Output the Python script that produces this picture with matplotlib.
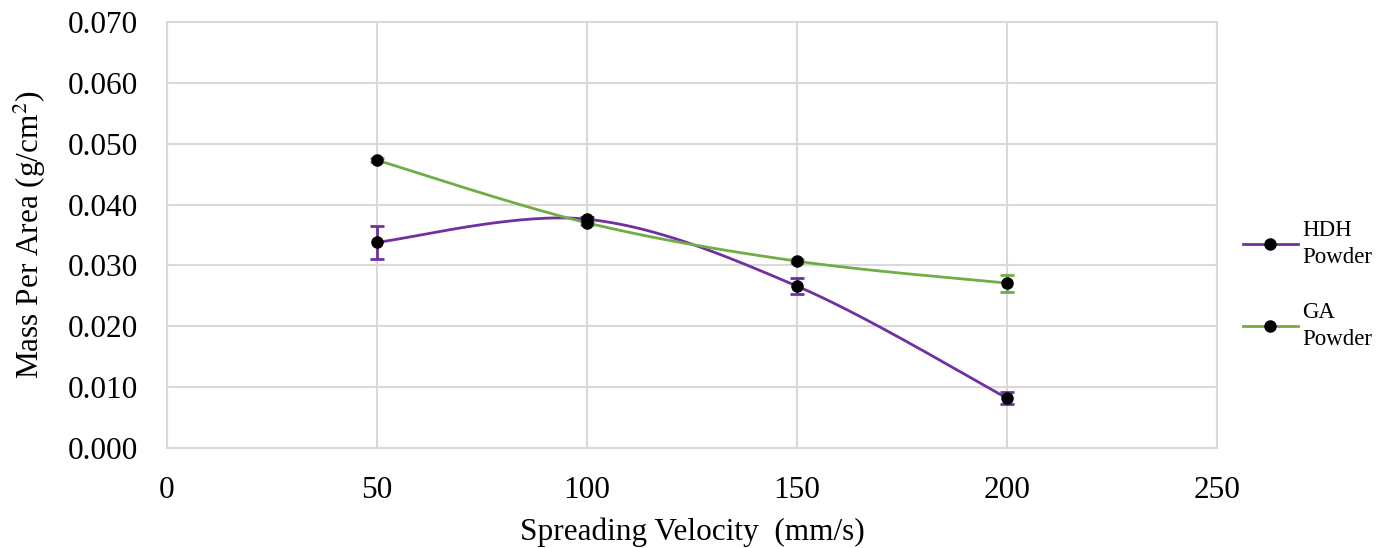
import numpy as np
import matplotlib
matplotlib.use("Agg")
import matplotlib.pyplot as plt
from matplotlib.lines import Line2D

# data
velocity = [50, 100, 150, 200]
hdh_mass = [0.0338, 0.0376, 0.0266, 0.0082]
hdh_err = [0.0027, 0.0003, 0.0013, 0.0010]
ga_mass = [0.0473, 0.0370, 0.0307, 0.0271]
ga_err = [0.0003, 0.0003, 0.0003, 0.0014]

purple = "#7030A0"
green = "#70AD47"
grid_col = "#D9D9D9"

plt.rcParams['font.family'] = ['Liberation Serif', 'DejaVu Serif']
plt.rcParams['mathtext.fontset'] = 'stix'


def smooth(xs, ys, n=60):
    # catmull-rom style bezier, like the office "smoothed line"
    xs = np.asarray(xs, float)
    ys = np.asarray(ys, float)
    outx, outy = [], []
    m = len(xs)
    for i in range(m - 1):
        p0 = np.array([xs[max(i - 1, 0)], ys[max(i - 1, 0)]])
        p1 = np.array([xs[i], ys[i]])
        p2 = np.array([xs[i + 1], ys[i + 1]])
        p3 = np.array([xs[min(i + 2, m - 1)], ys[min(i + 2, m - 1)]])
        c1 = p1 + (p2 - p0) / 6.0
        c2 = p2 - (p3 - p1) / 6.0
        t = np.linspace(0, 1, n)[:, None]
        pts = ((1 - t) ** 3) * p1 + 3 * ((1 - t) ** 2) * t * c1 + 3 * (1 - t) * t ** 2 * c2 + t ** 3 * p2
        outx.extend(pts[:, 0])
        outy.extend(pts[:, 1])
    return outx, outy


fig = plt.figure(figsize=(13.83, 5.48), dpi=100)
ax = fig.add_axes([167 / 1383, 1 - 448 / 548, (1217 - 167) / 1383, (448 - 22) / 548])

for ys, err, col in [(hdh_mass, hdh_err, purple), (ga_mass, ga_err, green)]:
    sx, sy = smooth(velocity, ys)
    ax.plot(sx, sy, color=col, lw=2, zorder=3)
    ax.errorbar(velocity, ys, yerr=err, fmt='none', ecolor=col, elinewidth=2,
                capsize=5, capthick=2, zorder=4)
    ax.plot(velocity, ys, 'o', color='black', ms=8, zorder=5)

ax.set_xlim(0, 250)
ax.set_ylim(0, 0.070)
ax.set_xticks(np.arange(0, 251, 50))
ax.set_yticks(np.arange(0, 0.0701, 0.01))
ax.yaxis.set_major_formatter(matplotlib.ticker.FormatStrFormatter('%.3f'))
ax.grid(True, color=grid_col, lw=1.5)
ax.set_axisbelow(True)
for s in ax.spines.values():
    s.set_color(grid_col)
    s.set_linewidth(1.5)
ax.tick_params(length=0, labelsize=22.5)
ax.tick_params(axis='y', pad=21)
ax.tick_params(axis='x', pad=20)

ax.set_xlabel("Spreading Velocity  (mm/s)", fontsize=22.5, labelpad=9)
ax.set_ylabel("Mass Per Area (g/cm$^{2}$)", fontsize=22.5, labelpad=14)

handles = [Line2D([0], [0], color=purple, lw=2, marker='o', mfc='black', mec='black', ms=8),
           Line2D([0], [0], color=green, lw=2, marker='o', mfc='black', mec='black', ms=8)]
fig.legend(handles, ["HDH\nPowder", "GA\nPowder"], loc='center left',
           bbox_to_anchor=(1222 / 1383, 1 - 285 / 548), frameon=False,
           fontsize=16.5, labelspacing=1.5, handlelength=2.4, handletextpad=0.2,
           prop={'size': 16.5})

for t in fig.legends[0].get_texts():
    t.set_linespacing(1.35)

fig.savefig("out.png", dpi=100)
